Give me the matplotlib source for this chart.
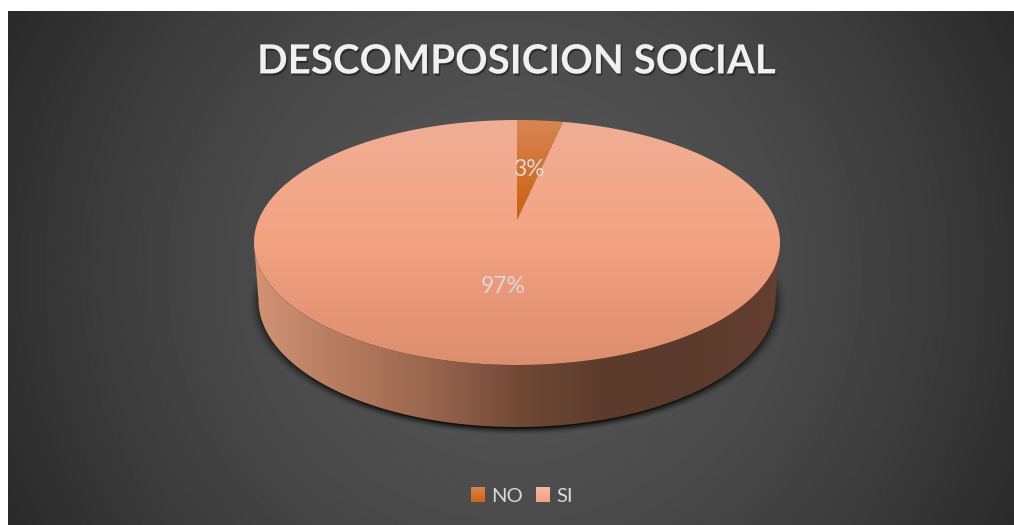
import numpy as np
import matplotlib
matplotlib.use("Agg")
import matplotlib.pyplot as plt
import matplotlib.patheffects as pe
from matplotlib.patches import Polygon
from matplotlib.colors import to_rgb

categories = ["NO", "SI"]
values = [2.8, 97.2]
title = "DESCOMPOSICION SOCIAL"

W, H = 1014, 525
CX, CY, A, B = 517, 242.5, 263, 122.5
APEX = (517, 220)
BCY, BA, BB = 300, 258.5, 127
TXT = "#d9d9d9"
FONT = "Lato"

slice_grad = {
    "NO": ([120, 170, 220], ["#d98553", "#d2722f", "#c8620f"]),
    "SI": ([120, 180, 240, 300, 365], ["#f0ae96", "#f2a98b", "#f3a382", "#e89878", "#dd8e6c"]),
}
swatch = {"NO": ("#d8814c", "#cf6518"), "SI": ("#f6b8a0", "#f3a283")}
side_x = [254, 300, 360, 430, 520, 600, 680, 780]
side_c = ["#d29475", "#c2866a", "#b0775b", "#9a654e", "#704936", "#5e3c2d", "#5a3a2c", "#653f30"]

fig = plt.figure(figsize=(W / 100, H / 100), dpi=100, facecolor="white")
ax = fig.add_axes([0, 0, 1, 1])
ax.set_xlim(0, W)
ax.set_ylim(H, 0)
ax.axis("off")


def ramp(pos, cols, q):
    c = np.array([to_rgb(k) for k in cols])
    return np.stack([np.interp(q, pos, c[:, i]) for i in range(3)], axis=-1)


def grad_patch(xy, pos, cols, vertical=True):
    poly = Polygon(xy, closed=True, fc="none", ec="none", transform=ax.transData)
    ax.add_patch(poly)
    if vertical:
        q = np.linspace(0, H, H + 1)
        img = ramp(pos, cols, q)[:, None, :]
    else:
        q = np.linspace(0, W, W + 1)
        img = ramp(pos, cols, q)[None, :, :]
    im = ax.imshow(img, extent=(0, W, H, 0), aspect="auto", interpolation="bilinear", zorder=3)
    im.set_clip_path(poly)
    return im


# background
yy, xx = np.mgrid[0:H, 0:W]
d = np.hypot(xx - 510, yy - 265) / 568
bg = 86 - 44 * np.clip(d, 0, 1) ** 1.7
ax.imshow(bg / 255, cmap="gray", vmin=0, vmax=1, extent=(8, W, H, 11), aspect="auto", zorder=0)
ax.set_xlim(0, W)
ax.set_ylim(H, 0)

# drop shadow under the pie
rn = np.hypot((xx - CX) / (BA + 1), (yy - (BCY + 2)) / (BB + 1))
sh = np.clip((1.04 - rn) / 0.06, 0, 1) ** 1.8 * 0.8
sh[yy < CY] = 0
sh_img = np.zeros((H, W, 4))
sh_img[..., 3] = sh
ax.imshow(sh_img, extent=(0, W, H, 0), aspect="auto", zorder=1)

# side wall
t = np.linspace(np.pi, 0, 300)
top_lo = np.c_[CX + A * np.cos(t), CY + B * np.sin(t)]
bot_lo = np.c_[CX + BA * np.cos(t), BCY + BB * np.sin(t)]
side = np.vstack([top_lo, bot_lo[::-1]])
grad_patch(side, side_x, side_c, vertical=False)

# top surface, one wedge per value
fr = np.cumsum([0] + values) / sum(values) * 2 * np.pi
mids = []
for cat, a0, a1 in zip(categories, fr[:-1], fr[1:]):
    s = np.linspace(a0, a1, 500)
    rim = np.c_[CX + A * np.sin(s), CY - B * np.cos(s)]
    xy = np.vstack([[APEX], rim])
    pos, cols = slice_grad[cat]
    grad_patch(xy, pos, cols).set_zorder(4)
    m = (a0 + a1) / 2
    mids.append((CX + A * np.sin(m), CY - B * np.cos(m)))

# data labels
label_frac = [0.52, 0.45]
label_dx = [0, -3]
for v, (mx, my), f, dx in zip(values, mids, label_frac, label_dx):
    ax.text(APEX[0] + (mx - APEX[0]) * f + dx, APEX[1] + (my - APEX[1]) * f + 1,
            f"{v / sum(values) * 100:.0f}%", color=TXT, fontsize=16.5, family=FONT,
            ha="center", va="center", zorder=6)

# title
ax.text(516, 62, title, color="#f0f0f0", fontsize=29, fontweight="bold", family=FONT,
        ha="center", va="center", zorder=6,
        path_effects=[pe.withSimplePatchShadow(offset=(1, -1.5), shadow_rgbFace="black", alpha=0.4)])

# legend
leg_x = [471, 536]
for cat, x in zip(categories, leg_x):
    c0, c1 = swatch[cat]
    grad = ramp([0, 1], [c0, c1], np.linspace(0, 1, 16))[:, None, :]
    ax.imshow(grad, extent=(x, x + 14, 502, 487), aspect="auto", zorder=5)
    ax.text(x + 20, 496.5, cat, color=TXT, fontsize=14.5, family=FONT, ha="left", va="center", zorder=6)
ax.set_xlim(0, W)
ax.set_ylim(H, 0)

fig.savefig("out.png", dpi=100, facecolor="white")
